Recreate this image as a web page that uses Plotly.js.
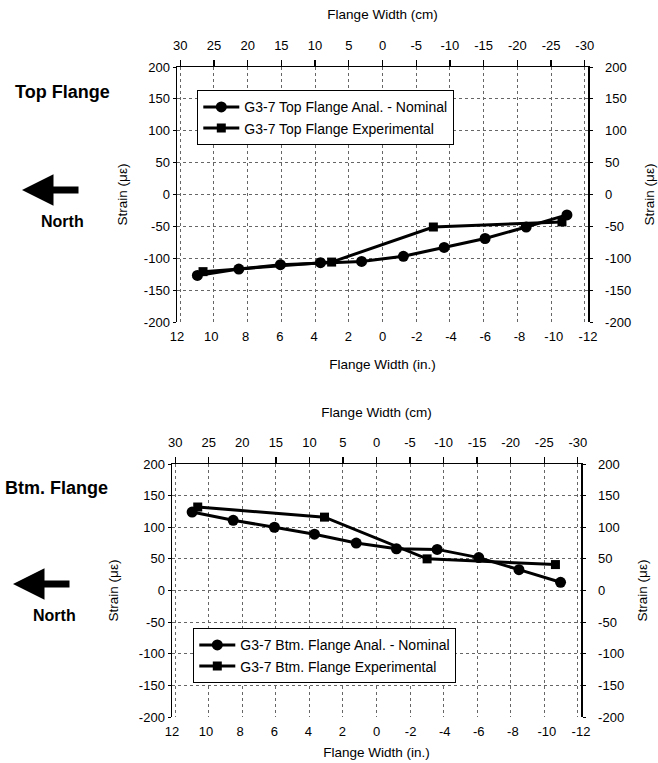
<!DOCTYPE html>
<html><head><meta charset="utf-8">
<script src="https://cdn.plot.ly/plotly-3.0.1.min.js"></script>
<style>html,body{margin:0;padding:0;background:#fff}#c{width:658px;height:763px}</style>
</head><body><div id="c"></div>
<script>
// Top flange (inches vs microstrain)
const topAnalX = [10.81, 8.39, 5.96, 3.62, 1.22, -1.22, -3.6, -5.99, -8.39, -10.77];
const topAnalY = [-127, -117, -110, -107, -105, -97, -83, -69, -51, -32];
const topExpX = [10.48, 2.97, -2.97, -10.48];
const topExpY = [-121, -106, -51, -43];
// Bottom flange
const btmAnalX = [10.82, 8.41, 5.99, 3.64, 1.19, -1.17, -3.56, -6.0, -8.36, -10.8];
const btmAnalY = [124, 111, 100, 89, 75, 66, 65, 52, 33, 13];
const btmExpX = [10.49, 3.05, -2.97, -10.5];
const btmExpY = [132, 116, 50, 41];
// Tick labels
const inchTicks = [12, 10, 8, 6, 4, 2, 0, -2, -4, -6, -8, -10, -12];
const cmTicks = [30, 25, 20, 15, 10, 5, 0, -5, -10, -15, -20, -25, -30];
const strainTicks = [200, 150, 100, 50, 0, -50, -100, -150, -200];

const names = {
  topAnal: 'G3-7 Top Flange Anal. - Nominal',
  topExp: 'G3-7 Top Flange Experimental',
  btmAnal: 'G3-7 Btm. Flange Anal. - Nominal',
  btmExp: 'G3-7 Btm. Flange Experimental'
};
const CM_PER_IN = 2.54;

const FONT = 'Liberation Sans, Arial, sans-serif';
const lineStyle = {color: '#000', width: 3};
function tr(x, y, name, sym, xa, ya, leg) {
  return {x: x, y: y, name: name, type: 'scatter', mode: 'lines+markers',
    line: lineStyle, marker: {symbol: sym, size: sym === 'circle' ? 11 : 9, color: '#000'},
    xaxis: xa, yaxis: ya, legend: leg, cliponaxis: false, hoverinfo: 'skip'};
}
// transparent copy on the secondary (cm / right strain) axes so those axes are drawn
function ghost(x, y, xa, ya) {
  return {x: x.map(v => v * CM_PER_IN), y: y, type: 'scatter', mode: 'lines',
    line: {width: 0, color: 'rgba(0,0,0,0)'}, opacity: 0, showlegend: false,
    hoverinfo: 'skip', xaxis: xa, yaxis: ya};
}
const data = [
  ghost(topAnalX, topAnalY, 'x2', 'y2'),
  ghost(btmAnalX, btmAnalY, 'x4', 'y4'),
  tr(topAnalX, topAnalY, names.topAnal, 'circle', 'x', 'y', 'legend'),
  tr(topExpX, topExpY, names.topExp, 'square', 'x', 'y', 'legend'),
  tr(btmAnalX, btmAnalY, names.btmAnal, 'circle', 'x3', 'y3', 'legend2'),
  tr(btmExpX, btmExpY, names.btmExp, 'square', 'x3', 'y3', 'legend2')
];

const tickF = {family: FONT, size: 13, color: '#000'};
const titleF = {family: FONT, size: 13.5, color: '#000'};
const inchRange = [12, -12];
const cmRange = [12 * CM_PER_IN, -12 * CM_PER_IN];
const lbl = a => a.map(v => String(v));
const GRID = '#666';

function inchAxis(domain, anchor, standoff) {
  return {domain: domain, anchor: anchor, range: inchRange, tickvals: inchTicks, ticktext: lbl(inchTicks),
    showgrid: false, zeroline: false, showline: false, ticks: '', tickfont: tickF,
    ticklabelstandoff: 5,
    title: {text: 'Flange Width (in.)', font: titleF, standoff: standoff}};
}
function cmAxis(over, anchor, domain, standoff) {
  return {overlaying: over, anchor: anchor, side: 'top', domain: domain, range: cmRange,
    tickvals: cmTicks, ticktext: lbl(cmTicks), showgrid: true, gridcolor: GRID, griddash: 'dot', gridwidth: 1,
    zeroline: false, showline: true, linecolor: '#000', linewidth: 1.5,
    ticks: 'outside', ticklen: 6, tickwidth: 1.3, tickcolor: '#000', tickfont: tickF,
    ticklabelstandoff: 4,
    title: {text: 'Flange Width (cm)', font: titleF, standoff: standoff}};
}
function leftY(domain, anchor, standoff) {
  return {domain: domain, anchor: anchor, range: [-200, 200], tickvals: strainTicks, ticktext: lbl(strainTicks),
    showgrid: true, gridcolor: GRID, griddash: 'dot', gridwidth: 1,
    zeroline: false, showline: true, linecolor: '#000', linewidth: 1.5,
    ticks: 'outside', ticklen: 3, tickcolor: '#000', tickfont: tickF,
    title: {text: 'Strain (με)', font: titleF, standoff: standoff}};
}
function rightY(over, anchor, standoff) {
  return {overlaying: over, anchor: anchor, side: 'right', range: [-200, 200], tickvals: strainTicks,
    ticktext: lbl(strainTicks),
    showgrid: false, zeroline: false, showline: true, linecolor: '#000', linewidth: 1.5,
    ticks: 'outside', ticklen: 3, tickcolor: '#000', tickfont: tickF, ticklabelstandoff: 10,
    title: {text: 'Strain (με)', font: titleF, standoff: standoff}};
}

const topX = [177 / 658, 588 / 658];
const topY = [(763 - 322) / 763, (763 - 67) / 763];
const btmX = [172 / 658, 581 / 658];
const btmY = [(763 - 717) / 763, (763 - 464) / 763];

const legendStyle = {bgcolor: '#fff', bordercolor: '#000', borderwidth: 1.3,
  font: {family: FONT, size: 14, color: '#000'}, xanchor: 'left', yanchor: 'top',
  tracegroupgap: 0, itemwidth: 36};

const boldF = {family: FONT, size: 18, color: '#000', weight: 'bold'};
const northF = {family: FONT, size: 16, color: '#000', weight: 'bold'};
function px(x) { return x / 658; }
function py(y) { return 1 - y / 763; }
function txt(t, x, y, f) {
  return {text: t, xref: 'paper', yref: 'paper', x: px(x), y: py(y), xanchor: 'center', yanchor: 'middle',
    showarrow: false, font: f};
}
function arrow(x, y) {
  return {text: '', xref: 'paper', yref: 'paper', x: px(x), y: py(y), ax: 58, ay: 0,
    showarrow: true, arrowhead: 2, arrowwidth: 7, arrowsize: 0.9, arrowcolor: '#000'};
}

const layout = {
  width: 658, height: 763, margin: {l: 0, r: 0, t: 0, b: 0},
  paper_bgcolor: '#fff', plot_bgcolor: '#fff', showlegend: true,
  font: {family: FONT, color: '#000'},
  xaxis: inchAxis(topX, 'y', 16),
  xaxis2: cmAxis('x', 'y', topX, 15),
  yaxis: leftY(topY, 'x', 13),
  yaxis2: rightY('y', 'x', 14),
  xaxis3: inchAxis(btmX, 'y3', 9),
  xaxis4: cmAxis('x3', 'y3', btmX, 14),
  yaxis3: leftY(btmY, 'x3', 17),
  yaxis4: rightY('y3', 'x3', 14),
  legend: Object.assign({x: px(197), y: py(90)}, legendStyle),
  legend2: Object.assign({x: px(193), y: py(628)}, legendStyle),
  annotations: [
    txt('Top Flange', 62, 92, boldF),
    txt('North', 62, 222, northF),
    txt('Btm. Flange', 56, 488, boldF),
    txt('North', 54, 615, northF),
    arrow(22, 190),
    arrow(13, 584)
  ]
};
Plotly.newPlot('c', data, layout, {staticPlot: true, displayModeBar: false});
</script></body></html>
